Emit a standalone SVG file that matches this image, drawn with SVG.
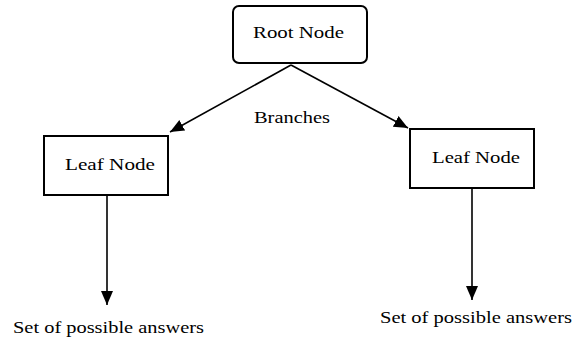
<svg xmlns="http://www.w3.org/2000/svg" width="573" height="345" viewBox="0 0 573 345">
<defs>
<style>
.box{fill:#fff;stroke:#000;stroke-width:2}
.lbl{font-family:"Liberation Serif","Times New Roman",serif;font-size:17px;fill:#000}
.edge{stroke:#000;stroke-width:1.6;fill:none}
</style>
<marker id="ah" markerUnits="userSpaceOnUse" markerWidth="14" markerHeight="14" viewBox="0 0 14 12" refX="14" refY="6" orient="auto">
<path d="M0,0 L14,6 L0,12 z" fill="#000"/>
</marker>
</defs>
<rect width="573" height="345" fill="#fff"/>
<g id="connectors">
<line class="edge" x1="291" y1="65" x2="170" y2="132" marker-end="url(#ah)"/>
<line class="edge" x1="291" y1="65" x2="408" y2="128" marker-end="url(#ah)"/>
<line class="edge" x1="107" y1="195" x2="107" y2="305" marker-end="url(#ah)"/>
<line class="edge" x1="472" y1="188" x2="472" y2="300" marker-end="url(#ah)"/>
<text class="lbl" x="254" y="123" textLength="76" lengthAdjust="spacingAndGlyphs">Branches</text>
</g>
<g id="root">
<rect class="box" x="233" y="6" width="134" height="57" rx="6"/>
<text class="lbl" x="253" y="38" textLength="91" lengthAdjust="spacingAndGlyphs">Root Node</text>
</g>
<g id="leafLeft">
<rect class="box" x="44" y="136" width="124" height="59"/>
<text class="lbl" x="65" y="170" textLength="90" lengthAdjust="spacingAndGlyphs">Leaf Node</text>
</g>
<g id="leafRight">
<rect class="box" x="410" y="129" width="124" height="59"/>
<text class="lbl" x="432" y="163" textLength="88" lengthAdjust="spacingAndGlyphs">Leaf Node</text>
</g>
<g id="answersLeft">
<text class="lbl" x="13" y="333" textLength="191" lengthAdjust="spacingAndGlyphs">Set of possible answers</text>
</g>
<g id="answersRight">
<text class="lbl" x="380" y="323" textLength="192" lengthAdjust="spacingAndGlyphs">Set of possible answers</text>
</g>
</svg>
